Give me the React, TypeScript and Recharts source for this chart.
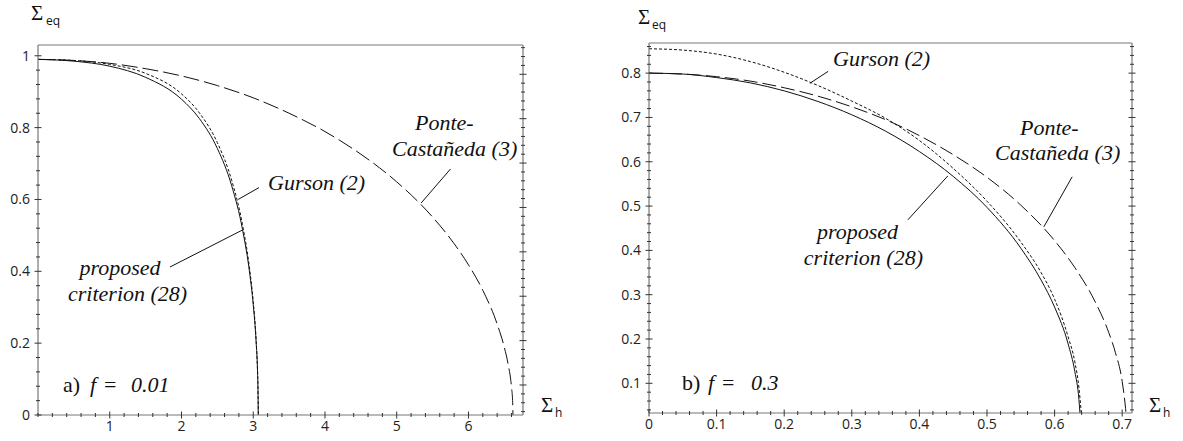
import { LineChart, Line, XAxis, YAxis, ReferenceLine } from 'recharts';

// f = 0.01 (left panel)
const leftProposed = [
  { x: 0, y: 0.99 }, { x: 0.5, y: 0.985 }, { x: 1, y: 0.971 }, { x: 1.5, y: 0.94 },
  { x: 2, y: 0.879 }, { x: 2.25, y: 0.825 }, { x: 2.5, y: 0.742 }, { x: 2.7, y: 0.638 },
  { x: 2.85, y: 0.517 }, { x: 2.95, y: 0.395 }, { x: 3.0, y: 0.307 }, { x: 3.04, y: 0.204 },
  { x: 3.06, y: 0.12 }, { x: 3.066, y: 0.07 }, { x: 3.07, y: 0 },
];
const leftGurson = [
  { x: 0, y: 0.99 }, { x: 0.5, y: 0.987 }, { x: 1, y: 0.976 }, { x: 1.5, y: 0.951 },
  { x: 2, y: 0.894 }, { x: 2.25, y: 0.841 }, { x: 2.5, y: 0.758 }, { x: 2.7, y: 0.653 },
  { x: 2.85, y: 0.53 }, { x: 2.95, y: 0.406 }, { x: 3.0, y: 0.316 }, { x: 3.04, y: 0.21 },
  { x: 3.06, y: 0.123 }, { x: 3.065, y: 0.088 }, { x: 3.069, y: 0.04 }, { x: 3.072, y: 0 },
];
const leftPonte = [
  { x: 0, y: 0.99 }, { x: 0.5, y: 0.987 }, { x: 1, y: 0.979 }, { x: 1.5, y: 0.964 },
  { x: 2, y: 0.944 }, { x: 2.5, y: 0.917 }, { x: 3, y: 0.883 }, { x: 3.5, y: 0.84 },
  { x: 4, y: 0.789 }, { x: 4.5, y: 0.726 }, { x: 5, y: 0.649 }, { x: 5.5, y: 0.551 },
  { x: 5.8, y: 0.477 }, { x: 6, y: 0.418 }, { x: 6.2, y: 0.347 }, { x: 6.4, y: 0.253 },
  { x: 6.5, y: 0.188 }, { x: 6.55, y: 0.144 }, { x: 6.6, y: 0.077 }, { x: 6.615, y: 0.04 },
  { x: 6.62, y: 0 },
];

// f = 0.3 (right panel)
const rightProposed = [
  { x: 0, y: 0.8 }, { x: 0.05, y: 0.798 }, { x: 0.1, y: 0.79 }, { x: 0.15, y: 0.778 },
  { x: 0.2, y: 0.76 }, { x: 0.25, y: 0.736 }, { x: 0.3, y: 0.706 }, { x: 0.35, y: 0.669 },
  { x: 0.4, y: 0.623 }, { x: 0.45, y: 0.567 }, { x: 0.5, y: 0.497 }, { x: 0.55, y: 0.405 },
  { x: 0.58, y: 0.333 }, { x: 0.6, y: 0.272 }, { x: 0.62, y: 0.189 }, { x: 0.63, y: 0.126 },
  { x: 0.636, y: 0.063 }, { x: 0.6375, y: 0.033 },
];
const rightGurson = [
  { x: 0, y: 0.855 }, { x: 0.05, y: 0.852 }, { x: 0.1, y: 0.843 }, { x: 0.15, y: 0.826 },
  { x: 0.2, y: 0.802 }, { x: 0.25, y: 0.772 }, { x: 0.3, y: 0.737 }, { x: 0.35, y: 0.698 },
  { x: 0.4, y: 0.648 }, { x: 0.45, y: 0.585 }, { x: 0.5, y: 0.511 }, { x: 0.55, y: 0.419 },
  { x: 0.58, y: 0.35 }, { x: 0.6, y: 0.29 }, { x: 0.62, y: 0.205 }, { x: 0.63, y: 0.148 },
  { x: 0.636, y: 0.09 }, { x: 0.6395, y: 0.033 },
];
const rightPonte = [
  { x: 0, y: 0.8 }, { x: 0.05, y: 0.798 }, { x: 0.1, y: 0.792 }, { x: 0.15, y: 0.782 },
  { x: 0.2, y: 0.767 }, { x: 0.25, y: 0.748 }, { x: 0.3, y: 0.724 }, { x: 0.35, y: 0.695 },
  { x: 0.4, y: 0.659 }, { x: 0.45, y: 0.616 }, { x: 0.5, y: 0.565 }, { x: 0.55, y: 0.502 },
  { x: 0.6, y: 0.422 }, { x: 0.63, y: 0.361 }, { x: 0.66, y: 0.284 }, { x: 0.68, y: 0.215 },
  { x: 0.69, y: 0.169 }, { x: 0.7, y: 0.104 }, { x: 0.705, y: 0.043 }, { x: 0.7056, y: 0.033 },
];

// tick labels
const leftXLabels = [1, 2, 3, 4, 5, 6];
const leftYLabels = [0, 0.2, 0.4, 0.6, 0.8, 1];
const leftTopMajor = [0, 1, 2, 3, 4, 5, 6, 7];
const leftRightMajor = [0, 1, 2, 3, 4, 5, 6, 7];
const rightXLabels = [0, 0.1, 0.2, 0.3, 0.4, 0.5, 0.6, 0.7];
const rightYLabels = [0.1, 0.2, 0.3, 0.4, 0.5, 0.6, 0.7, 0.8];

const serif = 'Liberation Serif';
const sans = 'Open Sans';
const INK = '#111';

function steps(from: number, to: number, step: number) {
  const out: number[] = [];
  for (let v = from; v <= to + 1e-9; v += step) out.push(Math.round(v * 10000) / 10000);
  return out;
}

function merge(a: number[], b: number[]) {
  const all = [...a, ...b].map((v) => Math.round(v * 10000) / 10000);
  return Array.from(new Set(all)).sort((p, q) => p - q);
}

const tickText = { fontFamily: sans, fontSize: 14, fill: '#222' };

// tick that crosses the axis line; label only on labelled majors
function makeTick(side: 'bottom' | 'left' | 'top' | 'right', majors: number[], labelled: boolean) {
  return (props: any) => {
    const { x, y, payload } = props;
    const v = payload.value;
    const major = majors.some((m) => Math.abs(m - v) < 1e-6);
    const len = major ? 3.5 : 2;
    const horiz = side === 'bottom' || side === 'top';
    return (
      <g>
        {horiz ? (
          <line x1={x} x2={x} y1={y - len} y2={y + len} stroke="#333" strokeWidth={1} />
        ) : (
          <line x1={x - len} x2={x + len} y1={y} y2={y} stroke="#333" strokeWidth={1} />
        )}
        {major && labelled && side === 'bottom' && (
          <text x={x} y={y + 16} textAnchor="middle" style={tickText}>
            {String(v)}
          </text>
        )}
        {major && labelled && side === 'left' && (
          <text x={x - 8} y={y + 5} textAnchor="end" style={tickText}>
            {String(v)}
          </text>
        )}
      </g>
    );
  };
}

const axisLine = { stroke: '#777', strokeWidth: 1.2 };

function LeftPanel() {
  return (
    <LineChart width={590} height={441} margin={{ top: 44, right: 66, bottom: 25, left: 37 }}>
      <XAxis xAxisId="b" type="number" dataKey="x" domain={[0, 6.76]} allowDataOverflow
        ticks={merge(leftXLabels, steps(0, 6.6, 0.2))} interval={0} height={1}
        tickSize={0} tickMargin={0} tickLine={false} axisLine={axisLine}
        tick={makeTick('bottom', leftXLabels, true)} />
      <XAxis xAxisId="t" orientation="top" type="number" domain={[0, 7.1]} allowDataOverflow
        ticks={merge(leftTopMajor, steps(0, 7, 0.2))} interval={0} height={1}
        tickSize={0} tickMargin={0} tickLine={false} axisLine={axisLine}
        tick={makeTick('top', leftTopMajor, false)} />
      <YAxis yAxisId="l" type="number" domain={[0, 1.03]} allowDataOverflow
        ticks={merge(leftYLabels, steps(0, 1.0, 0.04))} interval={0} width={1}
        tickSize={0} tickMargin={0} tickLine={false} axisLine={axisLine}
        tick={makeTick('left', leftYLabels, true)} />
      <YAxis yAxisId="r" orientation="right" type="number" domain={[-0.676, 7.66]} allowDataOverflow
        ticks={merge(leftRightMajor, steps(-0.6, 7.6, 0.2))} interval={0} width={1}
        tickSize={0} tickMargin={0} tickLine={false} axisLine={axisLine}
        tick={makeTick('right', leftRightMajor, false)} />
      <Line xAxisId="b" yAxisId="l" data={leftPonte} dataKey="y" type="monotone" stroke={INK}
        strokeWidth={1} strokeDasharray="16 5" dot={false} isAnimationActive={false} />
      <Line xAxisId="b" yAxisId="l" data={leftGurson} dataKey="y" type="monotone" stroke={INK}
        strokeWidth={1} strokeDasharray="3 2" dot={false} isAnimationActive={false} />
      <Line xAxisId="b" yAxisId="l" data={leftProposed} dataKey="y" type="monotone" stroke={INK}
        strokeWidth={1} dot={false} isAnimationActive={false} />
      <ReferenceLine xAxisId="b" yAxisId="l" segment={[{ x: 3.08, y: 0.633 }, { x: 2.79, y: 0.6 }]}
        stroke={INK} ifOverflow="visible" />
      <ReferenceLine xAxisId="b" yAxisId="l" segment={[{ x: 1.84, y: 0.412 }, { x: 2.85, y: 0.515 }]}
        stroke={INK} ifOverflow="visible" />
      <ReferenceLine xAxisId="b" yAxisId="l" segment={[{ x: 5.75, y: 0.685 }, { x: 5.34, y: 0.59 }]}
        stroke={INK} ifOverflow="visible" />
    </LineChart>
  );
}

function RightPanel() {
  return (
    <LineChart width={593} height={441} margin={{ top: 42, right: 50, bottom: 27, left: 58 }}>
      <XAxis xAxisId="b" type="number" dataKey="x" domain={[0, 0.7145]} allowDataOverflow
        ticks={merge(rightXLabels, steps(0, 0.7, 0.02))} interval={0} height={1}
        tickSize={0} tickMargin={0} tickLine={false} axisLine={axisLine}
        tick={makeTick('bottom', rightXLabels, true)} />
      <XAxis xAxisId="t" orientation="top" type="number" domain={[0, 0.7145]} allowDataOverflow
        ticks={merge(rightXLabels, steps(0, 0.7, 0.02))} interval={0} height={1}
        tickSize={0} tickMargin={0} tickLine={false} axisLine={axisLine}
        tick={makeTick('top', rightXLabels, false)} />
      <YAxis yAxisId="l" type="number" domain={[0.033, 0.868]} allowDataOverflow
        ticks={merge(rightYLabels, steps(0.04, 0.86, 0.02))} interval={0} width={1}
        tickSize={0} tickMargin={0} tickLine={false} axisLine={axisLine}
        tick={makeTick('left', rightYLabels, true)} />
      <YAxis yAxisId="r" orientation="right" type="number" domain={[0.033, 0.868]} allowDataOverflow
        ticks={merge(rightYLabels, steps(0.04, 0.86, 0.02))} interval={0} width={1}
        tickSize={0} tickMargin={0} tickLine={false} axisLine={axisLine}
        tick={makeTick('right', rightYLabels, false)} />
      <Line xAxisId="b" yAxisId="l" data={rightPonte} dataKey="y" type="monotone" stroke={INK}
        strokeWidth={1} strokeDasharray="14 5" dot={false} isAnimationActive={false} />
      <Line xAxisId="b" yAxisId="l" data={rightGurson} dataKey="y" type="monotone" stroke={INK}
        strokeWidth={1} strokeDasharray="3 2" dot={false} isAnimationActive={false} />
      <Line xAxisId="b" yAxisId="l" data={rightProposed} dataKey="y" type="monotone" stroke={INK}
        strokeWidth={1} dot={false} isAnimationActive={false} />
      <ReferenceLine xAxisId="b" yAxisId="l" segment={[{ x: 0.265, y: 0.804 }, { x: 0.238, y: 0.777 }]}
        stroke={INK} ifOverflow="visible" />
      <ReferenceLine xAxisId="b" yAxisId="l" segment={[{ x: 0.626, y: 0.566 }, { x: 0.584, y: 0.453 }]}
        stroke={INK} ifOverflow="visible" />
      <ReferenceLine xAxisId="b" yAxisId="l" segment={[{ x: 0.383, y: 0.469 }, { x: 0.442, y: 0.568 }]}
        stroke={INK} ifOverflow="visible" />
    </LineChart>
  );
}

function Annotations() {
  const it = { fontFamily: serif, fontStyle: 'italic' as const, fontSize: 22, fill: INK };
  const up = { fontFamily: serif, fontSize: 22, fill: INK };
  const sig = { fontFamily: serif, fontSize: 21, fill: INK };
  const sub = { fontFamily: sans, fontSize: 12, fill: INK };
  return (
    <svg width={1183} height={441} style={{ position: 'absolute', left: 0, top: 0, pointerEvents: 'none' }}>
      {/* axis titles */}
      <text x={31} y={20} style={sig}>Σ</text>
      <text x={46} y={25} style={sub}>eq</text>
      <text x={541} y={412} style={sig}>Σ</text>
      <text x={555} y={417} style={sub}>h</text>
      <text x={638} y={24} style={sig}>Σ</text>
      <text x={652} y={29} style={sub}>eq</text>
      <text x={1149} y={412} style={sig}>Σ</text>
      <text x={1163} y={417} style={sub}>h</text>

      {/* left panel */}
      <text x={268} y={190} style={it}>Gurson (2)</text>
      <text x={120} y={275} textAnchor="middle" style={it}>proposed</text>
      <text x={68} y={301} style={it}>criterion (28)</text>
      <text x={415} y={130} style={it}>Ponte-</text>
      <text x={392} y={156} style={it}>Castañeda (3)</text>
      <text x={63} y={392} style={up}>a)</text>
      <text x={90} y={392} style={it}>f</text>
      <text x={104} y={392} style={up}>=</text>
      <text x={131} y={392} style={it}>0.01</text>

      {/* right panel */}
      <text x={833} y={66} style={it}>Gurson (2)</text>
      <text x={1020} y={135} style={it}>Ponte-</text>
      <text x={995} y={160} style={it}>Castañeda (3)</text>
      <text x={898} y={239} textAnchor="end" style={it}>proposed</text>
      <text x={923} y={265} textAnchor="end" style={it}>criterion (28)</text>
      <text x={682} y={390} style={up}>b)</text>
      <text x={708} y={390} style={it}>f</text>
      <text x={722} y={390} style={up}>=</text>
      <text x={751} y={390} style={it}>0.3</text>
    </svg>
  );
}

export default function App() {
  return (
    <div style={{ position: 'absolute', left: 0, top: 0, width: 1183, height: 441, background: '#fff' }}>
      <div style={{ position: 'absolute', left: 0, top: 0 }}>
        <LeftPanel />
      </div>
      <div style={{ position: 'absolute', left: 590, top: 0 }}>
        <RightPanel />
      </div>
      <Annotations />
    </div>
  );
}
